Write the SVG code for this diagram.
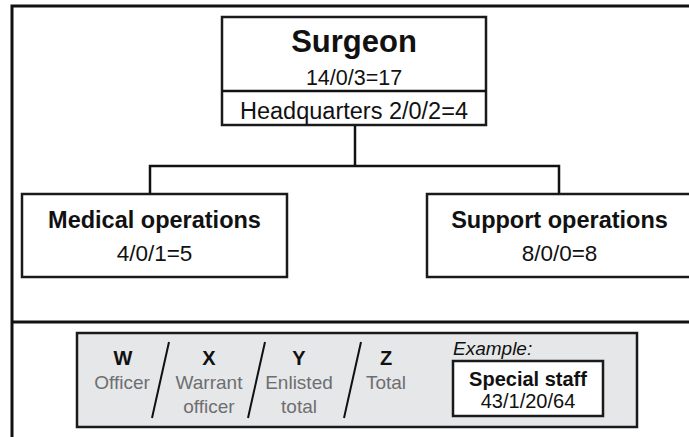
<svg xmlns="http://www.w3.org/2000/svg" width="689" height="437" viewBox="0 0 689 437">
  <style>
    text { font-family: "Liberation Sans", Arial, sans-serif; fill: #111; text-anchor: middle; }
    .box { fill: #fff; stroke: #1a1a1a; stroke-width: 2.5; }
    .frame { fill: none; stroke: #111; stroke-width: 3; }
    .wire { fill: none; stroke: #111; stroke-width: 2.5; }
    .title { font-weight: bold; font-size: 23.5px; }
    .count { font-size: 22.5px; }
    .key { font-weight: bold; font-size: 20px; }
    .lbl { font-size: 19px; fill: #6d6e71; }
    .slash { stroke: #111; stroke-width: 2; }
  </style>

  <!-- page frame and key separator -->
  <g id="frame">
    <path class="frame" d="M12,437 V6 H689"/>
    <line class="frame" x1="12" y1="322" x2="689" y2="322"/>
  </g>

  <!-- connectors -->
  <g id="connectors">
    <path class="wire" d="M355,125 V166"/>
    <path class="wire" d="M150,193 V166 H559 V193"/>
  </g>

  <g id="surgeon">
    <rect class="box" x="222" y="17" width="264" height="108"/>
    <line class="wire" x1="222" y1="91" x2="486" y2="91"/>
    <text x="354" y="52" style="font-weight:bold;font-size:31px">Surgeon</text>
    <text x="354" y="85" style="font-size:21.5px">14/0/3=17</text>
    <text x="354" y="119" style="font-size:23.5px">Headquarters 2/0/2=4</text>
  </g>

  <g id="medical-operations">
    <rect class="box" x="22" y="194" width="265" height="83"/>
    <text class="title" x="154.5" y="228">Medical operations</text>
    <text class="count" x="154.5" y="261">4/0/1=5</text>
  </g>

  <g id="support-operations">
    <rect class="box" x="427" y="194" width="265" height="83"/>
    <text class="title" x="559.5" y="228">Support operations</text>
    <text class="count" x="559.5" y="261">8/0/0=8</text>
  </g>

  <!-- key -->
  <g id="key">
    <rect x="77" y="333" width="560" height="94" fill="#e6e7e8" stroke="#1a1a1a" stroke-width="2.5"/>
    <text class="key" x="123" y="365">W</text>
    <text class="lbl" x="122" y="389">Officer</text>
    <line class="slash" x1="169" y1="342" x2="152" y2="418"/>
    <text class="key" x="209" y="365">X</text>
    <text class="lbl" x="209" y="389">Warrant</text>
    <text class="lbl" x="209" y="413">officer</text>
    <line class="slash" x1="265" y1="342" x2="248" y2="418"/>
    <text class="key" x="299" y="365">Y</text>
    <text class="lbl" x="299" y="389">Enlisted</text>
    <text class="lbl" x="299" y="413">total</text>
    <line class="slash" x1="361" y1="342" x2="344" y2="418"/>
    <text class="key" x="386" y="365">Z</text>
    <text class="lbl" x="386" y="389">Total</text>
    <text x="453" y="355" style="text-anchor:start;font-style:italic;font-size:19px">Example:</text>
    <rect class="box" x="453" y="361" width="150" height="55"/>
    <text x="528" y="386" style="font-weight:bold;font-size:20px">Special staff</text>
    <text x="528" y="408" style="font-size:20px">43/1/20/64</text>
  </g>
</svg>
